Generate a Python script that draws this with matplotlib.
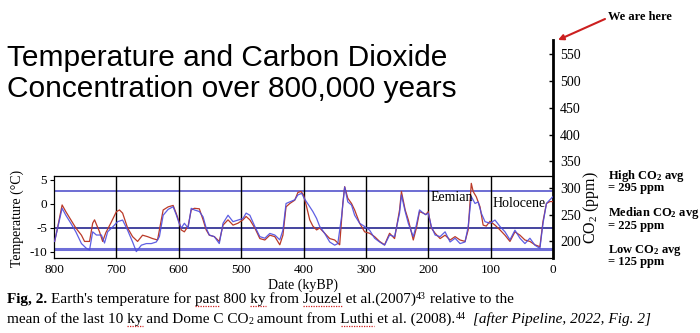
import numpy as np
import matplotlib.pyplot as plt
from matplotlib.lines import Line2D

plt.rcParams['font.family'] = 'Liberation Serif'
plt.rcParams['mathtext.fontset'] = 'custom'
plt.rcParams['mathtext.rm'] = 'Liberation Serif'
plt.rcParams['mathtext.bf'] = 'Liberation Serif:bold'
plt.rcParams['mathtext.it'] = 'Liberation Serif:italic'

# Jouzel temperature anomaly (kyBP, deg C)
temp_age = [799, 795, 787, 781, 773, 765, 756, 751, 743, 738, 735, 727, 722, 717,
            709, 700, 695, 690, 682, 674, 666, 658, 650, 642, 634, 628, 625, 617,
            609, 604, 600, 596, 591, 585, 580, 575, 567, 561, 556, 551, 543, 535,
            529, 521, 513, 505, 497, 492, 486, 478, 470, 462, 454, 446, 438, 433,
            428, 422, 414, 409, 404, 400, 395, 390, 385, 379, 374, 366, 358, 350,
            342, 337, 334, 329, 323, 318, 310, 302, 294, 286, 278, 270, 262, 254,
            246, 243, 237, 232, 224, 219, 214, 208, 204, 200, 195, 189, 181, 173,
            165, 157, 149, 141, 136, 131, 128, 123, 117, 112, 107, 101, 93, 85,
            77, 69, 61, 53, 45, 37, 29, 21, 16, 10.5, 5, 0]
temp_val = [-7.8, -5.4, -0.2, -1.6, -3.3, -5.0, -6.5, -7.8, -7.8, -4.0, -3.3, -5.8,
            -7.8, -6.0, -4.0, -1.6, -1.25, -1.9, -5.0, -6.8, -7.8, -6.5, -6.8, -7.2,
            -7.5, -3.3, -1.25, -0.6, -0.3, -2.0, -3.5, -5.4, -5.8, -4.6, -1.25, -0.9,
            -1.0, -3.3, -5.4, -6.5, -6.8, -7.8, -4.4, -3.3, -4.4, -4.0, -3.3, -2.6,
            -3.3, -5.0, -7.2, -7.5, -6.5, -6.8, -8.5, -6.5, -0.6, 0.1, 0.8, 2.4,
            2.6, 1.9, -0.6, -3.3, -4.6, -5.4, -5.0, -6.1, -7.2, -7.5, -8.5, 0.1,
            3.6, 1.2, 0.1, -1.25, -4.0, -5.8, -6.1, -6.8, -7.8, -8.5, -6.1, -7.2,
            -1.25, 2.6, -1.25, -3.3, -7.5, -5.0, -1.6, -1.9, -2.2, -1.6, -5.0, -6.1,
            -7.2, -6.5, -7.5, -6.8, -7.5, -7.8, -5.4, 4.3, 2.6, 1.5, -0.6, -4.4,
            -4.6, -3.6, -4.4, -5.4, -6.5, -7.8, -5.8, -6.5, -7.5, -7.8, -8.5, -8.9,
            -3.6, 0.1, 0.5, 0.5]

# Dome C CO2 (kyBP, ppm)
co2_age = [799, 787, 781, 773, 765, 756, 748, 743, 738, 732, 724, 719, 714, 706,
           698, 690, 682, 674, 668, 660, 652, 644, 636, 631, 625, 617, 609, 604,
           600, 596, 591, 585, 580, 575, 567, 561, 556, 551, 543, 535, 529, 521,
           513, 505, 497, 492, 486, 478, 470, 462, 454, 446, 438, 433, 428, 422,
           414, 409, 403, 398, 390, 385, 379, 374, 366, 358, 350, 345, 339, 334,
           329, 323, 318, 310, 302, 294, 286, 278, 270, 262, 254, 246, 243, 237,
           232, 224, 219, 214, 208, 204, 200, 195, 189, 181, 173, 165, 157, 149,
           141, 136, 131, 125, 120, 115, 109, 101, 93, 85, 77, 69, 61, 53, 45,
           37, 29, 21, 16, 10.5, 5, 0]
co2_val = [200, 262, 249, 234, 218, 196, 187, 184, 218, 212, 212, 197, 218, 227,
           237, 240, 221, 199, 181, 193, 196, 196, 199, 209, 249, 260, 265, 250,
           236, 225, 234, 225, 262, 259, 256, 246, 225, 212, 209, 196, 234, 249,
           237, 240, 243, 253, 249, 228, 209, 206, 215, 212, 203, 221, 271, 274,
           278, 287, 290, 279, 265, 256, 243, 228, 215, 199, 193, 196, 246, 302,
           274, 268, 249, 234, 228, 221, 206, 199, 193, 212, 209, 253, 287, 256,
           234, 209, 231, 259, 253, 250, 253, 228, 212, 209, 218, 199, 206, 196,
           199, 228, 284, 271, 274, 253, 237, 234, 240, 228, 218, 203, 221, 206,
           196, 206, 193, 187, 234, 271, 278, 284]

co2_levels = [295, 225, 185]
level_colors = ['#5454cc', '#25258f', '#6e6ed8']
level_widths = [1.2, 1.2, 2.2]
level_notes = [('High CO$_\\mathbf{2}$ avg', '= 295 ppm'),
               ('Median CO$_\\mathbf{2}$ avg', '= 225 ppm'),
               ('Low CO$_\\mathbf{2}$ avg', '= 125 ppm')]

W, H = 700, 333
fig = plt.figure(figsize=(W / 100, H / 100), dpi=100)


def box(l, t, r, b):
    return [l / W, 1 - b / H, (r - l) / W, (b - t) / H]


co2ax = fig.add_axes(box(54, 40, 553, 258))
ax = fig.add_axes(box(54, 176, 553, 258))
co2ax.set_zorder(1)
ax.set_zorder(2)
ax.patch.set_visible(False)
co2ax.patch.set_visible(False)

ax.set_xlim(800, 0)
co2ax.set_xlim(800, 0)
ax.set_ylim(-11.25, 5.83)
co2ax.set_ylim(169, 577)

for v, c, lw in zip(co2_levels, level_colors, level_widths):
    co2ax.axhline(v, color=c, lw=lw)

for a in range(700, 0, -100):
    ax.axvline(a, color='black', lw=1.0, zorder=1)

ax.plot(temp_age, temp_val, color='#bb3a28', lw=0.9, zorder=3)
ax.plot(co2_age, co2_val, color='#4d4de0', lw=0.9, alpha=0.9, zorder=4,
        transform=co2ax.transData)

ax.text(163, 1.4, 'Eemian', fontsize=10, ha='center', va='center', zorder=5)
ax.text(54, 0.0, 'Holocene', fontsize=10, ha='center', va='center', zorder=5)

# temperature axis
ax.set_xticks(range(800, -1, -100))
ax.set_yticks([5, 0, -5, -10])
ax.set_yticklabels(['5', '0', '-5', '-10'])
ax.tick_params(axis='x', length=0, pad=4, labelsize=9.5)
ax.tick_params(axis='y', length=3, width=0.8, pad=2, labelsize=9.5)
ax.spines['right'].set_visible(False)
for s in ['left', 'top', 'bottom']:
    ax.spines[s].set_linewidth(0.9)

# CO2 axis
for s in ['left', 'top', 'bottom']:
    co2ax.spines[s].set_visible(False)
co2ax.spines['right'].set_linewidth(2)
co2ax.xaxis.set_visible(False)
co2ax.yaxis.tick_right()
co2ax.set_yticks(range(200, 551, 50))
co2ax.tick_params(axis='y', direction='in', length=3, width=1, pad=5, labelsize=10)

fig.text(17 / W, 1 - 218 / H, 'Temperature (\u00b0C)', rotation=90, fontsize=10,
         ha='center', va='center')
fig.text(303 / W, 1 - 285 / H, 'Date (kyBP)', fontsize=10, ha='center', va='center')
fig.text(591 / W, 1 - 208 / H, 'CO$_2$ (ppm)', rotation=90, fontsize=11.5,
         ha='center', va='center')

for (top, bottom), yc in zip(level_notes, [179, 216, 253]):
    fig.text(608 / W, 1 - yc / H, top, fontsize=9, fontweight='bold', va='baseline')
    fig.text(608 / W, 1 - (yc + 12.5) / H, bottom, fontsize=9, fontweight='bold',
             va='baseline')

# title
fig.text(7 / W, 1 - 66 / H, 'Temperature and Carbon Dioxide', family='Liberation Sans',
         fontsize=21.5, va='baseline')
fig.text(7 / W, 1 - 97 / H, 'Concentration over 800,000 years', family='Liberation Sans',
         fontsize=21.5, va='baseline')

# pointer to the present-day end of the CO2 axis
fig.text(608 / W, 1 - 17 / H, 'We are here', fontsize=9, fontweight='bold', va='center')
ax.annotate('', xy=(558 / W, 1 - 40 / H), xycoords='figure fraction',
            xytext=(605 / W, 1 - 19 / H), textcoords='figure fraction',
            arrowprops=dict(arrowstyle='-|>', color='#cc1f1f', lw=1.5,
                            mutation_scale=8, shrinkA=0, shrinkB=0))

# caption: runs of one style, words in a run may carry a red spell-check line
renderer = fig.canvas.get_renderer()


def text_width(s, **kw):
    t = fig.text(0, 0, s.replace(' ', '\u00a0'), **kw)
    w = t.get_window_extent(renderer=renderer).width
    t.remove()
    return w


def write_row(x, base, runs, size=11):
    for s, style, marked in runs:
        kw = dict(fontsize=size)
        dy = 0
        if 'b' in style:
            kw['fontweight'] = 'bold'
        if 'i' in style:
            kw['fontstyle'] = 'italic'
        if '^' in style:
            kw['fontsize'] = size * 0.65
            dy = -4
        if '_' in style:
            kw['fontsize'] = size * 0.65
            dy = 1.5
        fig.text(x / W, 1 - (base + dy) / H, s, va='baseline', **kw)
        for word in marked:
            i = s.index(word)
            x0 = x + (text_width(s[:i], **kw) if i else 0)
            x1 = x + text_width(s[:i + len(word)], **kw)
            fig.add_artist(Line2D([x0 / W, x1 / W], [1 - (base + 3) / H] * 2,
                                  transform=fig.transFigure, color='#d02020',
                                  lw=0.9, ls=(0, (1, 1))))
        x += text_width(s, **kw)


write_row(7, 303, [("Fig, 2. ", 'b', []),
                   ("Earth's temperature for past 800 ky from Jouzel et al.(2007)", '',
                    ['past', 'ky', 'Jouzel']),
                   ("43", '^', []), (" relative to the", '', [])])
write_row(7, 323, [("mean of the last 10 ky and Dome C CO", '', ['ky']),
                   ("2", '_', []),
                   (" amount from Luthi et al. (2008).", '', ['Luthi']),
                   ("44", '^', []), ("  ", '', []),
                   ("[after Pipeline, 2022, Fig. 2]", 'i', [])])

fig.savefig('out.png', dpi=100)
